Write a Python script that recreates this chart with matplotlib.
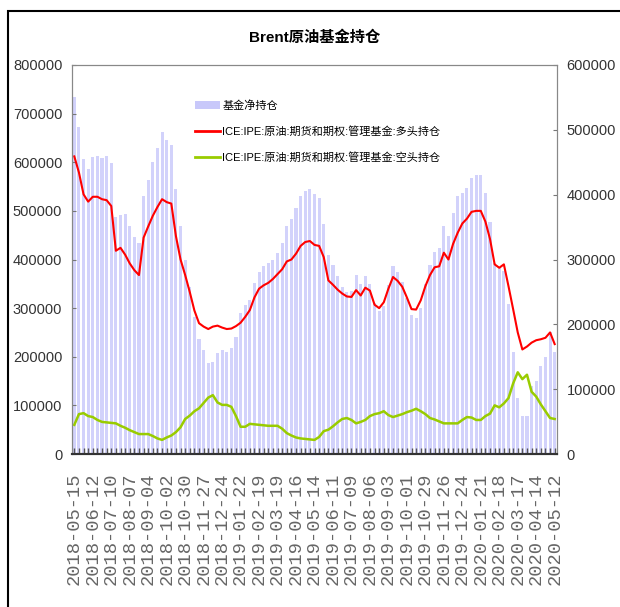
import numpy as np
import pandas as pd
import matplotlib
matplotlib.use('Agg')
import matplotlib.pyplot as plt
from matplotlib.patches import Rectangle, Patch
from matplotlib.lines import Line2D

plt.rcParams['font.family'] = ['Liberation Sans', 'Noto Sans CJK SC', 'DejaVu Sans']

# weekly report dates, 2018-05-15 .. 2020-05-12
dates = pd.date_range('2018-05-15', periods=105, freq='7D')
tick_labels = ['2018-05-15', '2018-06-12', '2018-07-10', '2018-08-07', '2018-09-04',
               '2018-10-02', '2018-10-30', '2018-11-27', '2018-12-24', '2019-01-22',
               '2019-02-19', '2019-03-19', '2019-04-16', '2019-05-14', '2019-06-11',
               '2019-07-09', '2019-08-06', '2019-09-03', '2019-10-01', '2019-10-29',
               '2019-11-26', '2019-12-24', '2020-01-21', '2020-02-18', '2020-03-17',
               '2020-04-14', '2020-05-12']

# 基金净持仓 (right axis), thousands
net = [551, 504, 455, 440, 458, 460, 456, 460, 449, 365,
       368, 370, 352, 335, 326, 398, 423, 450, 472, 497,
       485, 476, 408, 352, 300, 258, 212, 178, 160, 140,
       142, 156, 160, 157, 163, 181, 218, 230, 237, 264,
       280, 290, 294, 300, 310, 326, 352, 362, 380, 398,
       406, 408, 401, 395, 355, 307, 291, 275, 258, 250,
       252, 276, 262, 275, 262, 233, 220, 228, 260, 290,
       280, 265, 240, 214, 210, 225, 262, 292, 312, 318,
       352, 336, 372, 398, 403, 410, 425, 430, 430, 402,
       358, 294, 288, 282, 232, 158, 86, 58, 58, 105,
       112, 136, 150, 188, 157]

# 多头持仓 (left axis), thousands
long_pos = [612, 579, 534, 519, 529, 529, 524, 522, 510, 418,
            424, 410, 392, 378, 368, 445, 468, 490, 508, 524,
            518, 515, 448, 400, 368, 333, 295, 269, 262, 257,
            262, 264, 260, 257, 258, 263, 270, 282, 296, 322,
            340, 347, 352, 360, 370, 380, 396, 400, 412, 428,
            436, 438, 430, 428, 405, 357, 348, 338, 330, 324,
            323, 337, 326, 342, 336, 307, 300, 312, 340, 364,
            356, 344, 322, 298, 297, 316, 345, 368, 384, 386,
            414, 400, 432, 455, 474, 484, 498, 500, 500, 478,
            442, 390, 383, 390, 345, 298, 250, 215, 221, 229,
            234, 236, 239, 250, 226]

# 空头持仓 (left axis), thousands
short_pos = [60, 82, 84, 78, 76, 70, 66, 65, 64, 63,
             58, 54, 49, 45, 41, 41, 41, 37, 32, 29,
             34, 38, 45, 55, 72, 79, 88, 94, 105, 116,
             121, 106, 101, 101, 97, 78, 56, 56, 62, 61,
             60, 59, 58, 58, 58, 52, 43, 38, 34, 32,
             31, 30, 29, 35, 47, 50, 57, 65, 72, 74,
             70, 63, 66, 70, 78, 82, 84, 88, 80, 76,
             79, 82, 86, 89, 93, 88, 82, 74, 71, 67,
             63, 63, 63, 63, 70, 76, 75, 70, 70, 78,
             83, 100, 96, 104, 115, 145, 168, 154, 163, 128,
             118, 102, 88, 74, 72]

x = np.arange(len(dates))
net = np.array(net) * 1000
long_pos = np.array(long_pos) * 1000
short_pos = np.array(short_pos) * 1000

fig = plt.figure(figsize=(6.2, 6.07), dpi=100)
fig.patches.append(Rectangle((8 / 620, -0.1), 1.2, 1.1 - 11 / 607, transform=fig.transFigure,
                             fill=False, edgecolor='black', linewidth=1.5))

ax = fig.add_axes([72 / 620, 1 - 454 / 607, 485 / 620, 389 / 607])
ax2 = ax.twinx()
ax.set_zorder(ax2.get_zorder() + 1)
ax.patch.set_visible(False)

ax2.bar(x, net, width=0.68, color='#D2D2FB', edgecolor='none')
ax.plot(x, long_pos, color='#FF0000', lw=1.5)
ax.plot(x, short_pos, color='#99CC00', lw=1.8)

ax.set_xlim(-0.5, len(x) - 0.5)
ax.set_ylim(0, 800000)
ax2.set_ylim(0, 600000)
ax.set_yticks(np.arange(0, 800001, 100000))
ax2.set_yticks(np.arange(0, 600001, 100000))

lbls = [''] * len(x)
for k, t in enumerate(tick_labels):
    lbls[k * 4] = t
ax.set_xticks(x)
ax.set_xticklabels(lbls, rotation=90, family=['Liberation Mono', 'DejaVu Sans Mono'],
                   fontsize=13.5, color='#666666')
ax.tick_params(axis='x', direction='in', length=4, width=1, color='#555555', pad=13)
for a in (ax, ax2):
    a.tick_params(axis='y', direction='in', length=3, color='#777777', pad=7,
                  labelsize=10.5, labelcolor='#333333')
    for s in a.spines.values():
        s.set_color('#888888')
    a.spines['bottom'].set_color('#333333')
    a.spines['bottom'].set_linewidth(1.5)

fig.text(0.508, 1 - 38 / 607, 'Brent原油基金持仓', ha='center', va='center',
         fontsize=11, fontweight='bold', family=['Liberation Sans', 'Noto Sans CJK SC'])

handles = [Patch(facecolor='#C8C8FA', edgecolor='none'),
           Line2D([], [], color='#FF0000', lw=2),
           Line2D([], [], color='#99CC00', lw=2)]
names = ['基金净持仓', 'ICE:IPE:原油:期货和期权:管理基金:多头持仓',
         'ICE:IPE:原油:期货和期权:管理基金:空头持仓']
ax.legend(handles, names, loc='upper left', bbox_to_anchor=(0.232, 0.935), frameon=False,
          handlelength=2.3, handletextpad=0.2, labelspacing=1.35,
          prop={'family': ['Liberation Sans', 'Noto Sans CJK SC'], 'size': 8})

fig.savefig('out.png', dpi=100)
